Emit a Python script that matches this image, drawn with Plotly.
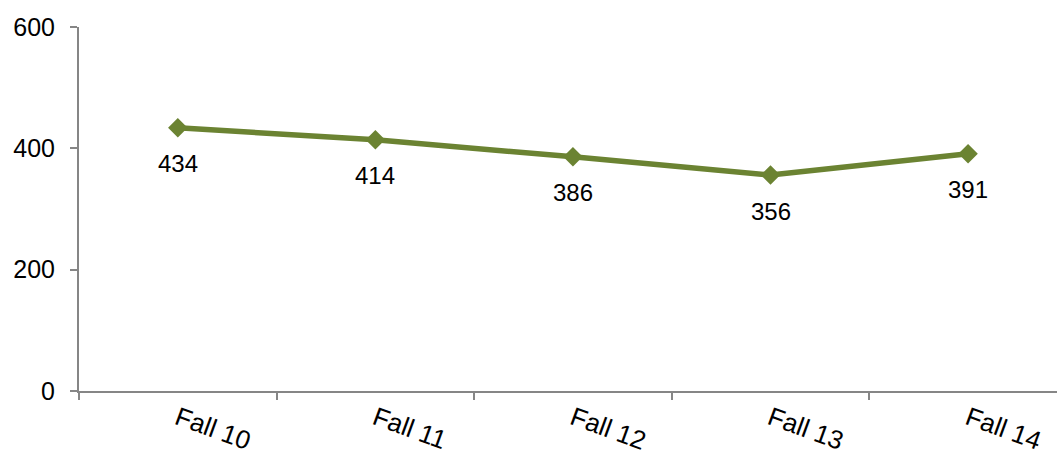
import plotly.graph_objects as go

categories = ["Fall 10", "Fall 11", "Fall 12", "Fall 13", "Fall 14"]
values = [434, 414, 386, 356, 391]
y_ticks = [0, 200, 400, 600]

color = "#6B8332"
axis_color = "#868686"
font_family = "Liberation Sans, Arial, sans-serif"

fig = go.Figure()
fig.add_trace(go.Scatter(
    x=categories, y=values,
    mode="lines+markers",
    line=dict(color=color, width=5.5),
    marker=dict(symbol="diamond", size=15, color=color),
    cliponaxis=False,
    hoverinfo="skip",
))

for c, v in zip(categories, values):
    fig.add_annotation(
        x=c, y=v, text=str(v), showarrow=False,
        yshift=-36, xanchor="center", yanchor="middle",
        font=dict(family=font_family, size=24, color="#000000"),
    )

fig.update_layout(
    width=1057, height=457,
    margin=dict(l=79, r=0, t=27, b=66, autoexpand=False),
    paper_bgcolor="white", plot_bgcolor="white",
    showlegend=False,
    font=dict(family=font_family, size=25, color="#000000"),
    xaxis=dict(
        type="category",
        range=[-0.5, 4.45],
        tickson="boundaries",
        ticks="outside", ticklen=7, tickcolor=axis_color, tickwidth=2,
        showline=True, linecolor=axis_color, linewidth=2,
        showgrid=False, zeroline=False,
        tickangle=20,
        automargin=False,
        tickfont=dict(family=font_family, size=26, color="#000000"),
    ),
    yaxis=dict(
        range=[0, 600],
        tickvals=y_ticks,
        ticks="outside", ticklen=7, tickcolor=axis_color, tickwidth=2,
        showline=True, linecolor=axis_color, linewidth=2,
        showgrid=False, zeroline=False,
        automargin=False,
        ticklabelstandoff=10,
        tickfont=dict(family=font_family, size=25, color="#000000"),
    ),
)

fig.write_html(
    "out.html",
    config={"displayModeBar": False},
    post_script="document.body.style.margin='0';document.body.style.padding='0';",
)
